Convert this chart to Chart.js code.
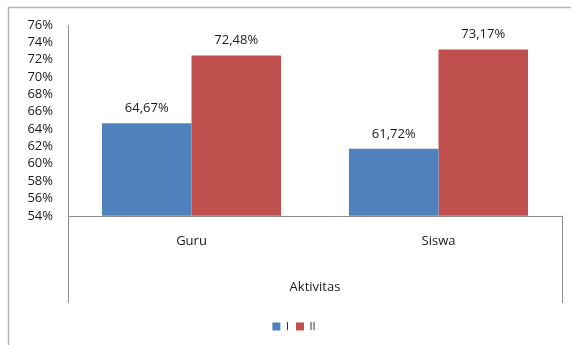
<!DOCTYPE html>
<html>
<head>
<meta charset="utf-8">
<script src="https://cdn.jsdelivr.net/npm/chart.js@4.4.1/dist/chart.umd.min.js"></script>
<style>
  html, body { margin: 0; padding: 0; background: #fff; }
  #wrap { width: 571px; height: 345px; position: relative; }
</style>
</head>
<body>
<div id="wrap"><canvas id="c" width="571" height="345"></canvas></div>
<script>
const categories = ['Guru', 'Siswa'];
const seriesNames = ['I', 'II'];
const seriesI = [64.67, 61.72];
const seriesII = [72.48, 73.17];
const yMin = 54, yMax = 76, yStep = 2;
const xTitle = 'Aktivitas';

const FONT = "'Open Sans', 'DejaVu Sans', sans-serif";
const fmt = v => v.toFixed(2).replace('.', ',') + '%';

const decorPlugin = {
  id: 'decor',
  beforeDraw(chart) {
    const ctx = chart.ctx;
    ctx.save();
    ctx.strokeStyle = '#b4b4b4';
    ctx.lineWidth = 1.5;
    ctx.beginPath();
    ctx.moveTo(8.5, 345);
    ctx.lineTo(8.5, 7.5);
    ctx.lineTo(571, 7.5);
    ctx.stroke();
    ctx.restore();
  },
  afterDraw(chart) {
    const ctx = chart.ctx;
    const a = chart.chartArea;
    ctx.save();
    ctx.strokeStyle = '#8c8c8c';
    ctx.lineWidth = 1;
    ctx.beginPath();
    ctx.moveTo(Math.round(a.left) + 0.5, a.bottom);
    ctx.lineTo(Math.round(a.left) + 0.5, 303);
    ctx.moveTo(Math.round(a.right) + 0.5, a.bottom);
    ctx.lineTo(Math.round(a.right) + 0.5, 303);
    ctx.moveTo(a.left, Math.round(a.bottom) + 0.5);
    ctx.lineTo(a.right + 1, Math.round(a.bottom) + 0.5);
    ctx.stroke();
    ctx.restore();
  },
  afterDatasetsDraw(chart) {
    const ctx = chart.ctx;
    ctx.save();
    ctx.font = '13px ' + FONT;
    ctx.fillStyle = '#1a1a1a';
    ctx.textAlign = 'center';
    ctx.textBaseline = 'middle';
    chart.data.datasets.forEach((ds, i) => {
      chart.getDatasetMeta(i).data.forEach((bar, j) => {
        ctx.fillText(fmt(ds.data[j]), bar.x, bar.y - 15);
      });
    });
    ctx.restore();
  }
};

new Chart(document.getElementById('c'), {
  type: 'bar',
  data: {
    labels: categories,
    datasets: [
      { label: seriesNames[0], data: seriesI, backgroundColor: '#4F81BD' },
      { label: seriesNames[1], data: seriesII, backgroundColor: '#C0504D' }
    ]
  },
  options: {
    responsive: false,
    animation: false,
    devicePixelRatio: 1,
    categoryPercentage: 0.725,
    barPercentage: 1.0,
    layout: { padding: { top: 25, right: 9, left: 26, bottom: 3 } },
    plugins: {
      tooltip: { enabled: false },
      legend: {
        position: 'bottom',
        labels: {
          boxWidth: 8, boxHeight: 8, padding: 7,
          color: '#1a1a1a',
          font: { family: FONT, size: 11 }
        }
      }
    },
    scales: {
      x: {
        grid: { display: false, drawTicks: false },
        border: { display: false },
        ticks: { color: '#1a1a1a', padding: 18, font: { family: FONT, size: 13 } },
        title: { display: true, text: xTitle, color: '#1a1a1a', padding: { top: 12, bottom: 19 }, font: { family: FONT, size: 13 } }
      },
      y: {
        min: yMin, max: yMax,
        grid: { display: false, drawTicks: false },
        border: { display: true, color: '#8c8c8c' },
        ticks: {
          stepSize: yStep, padding: 15, color: '#1a1a1a', autoSkip: false,
          font: { family: FONT, size: 13 },
          callback: v => v + '%'
        },
        afterFit(scale) { scale.width = 42; }
      }
    }
  },
  plugins: [decorPlugin]
});
</script>
</body>
</html>
